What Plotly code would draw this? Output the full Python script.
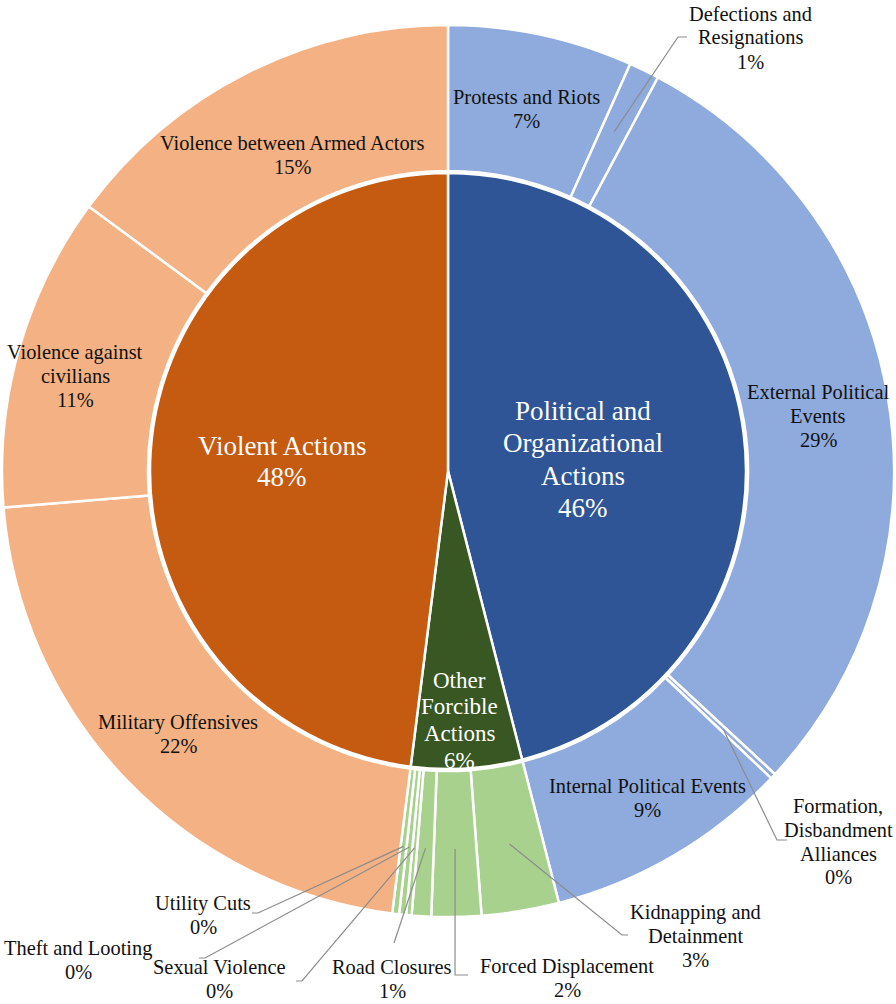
import math
import plotly.graph_objects as go

# Canvas and ring geometry (pixels)
W, H = 896, 1004
CX, CY = 448, 471
R_OUT, R_HOLE, R_IN = 446, 300, 298
R_LEADER = 378

# Inner ring: action groups (percent of events)
groups = ["Political and Organizational Actions", "Other Forcible Actions", "Violent Actions"]
group_values = [46.0, 6.0, 48.0]
group_colors = ["#2F5597", "#385723", "#C55A11"]
group_light = ["#8FAADC", "#A9D18E", "#F4B183"]

# Outer ring: event categories, in clockwise order from 12 o'clock
categories = [
    "Protests and Riots",
    "Defections and Resignations",
    "External Political Events",
    "Formation, Disbandment Alliances",
    "Internal Political Events",
    "Kidnapping and Detainment",
    "Forced Displacement",
    "Road Closures",
    "Sexual Violence",
    "Theft and Looting",
    "Utility Cuts",
    "Military Offensives",
    "Violence against civilians",
    "Violence between Armed Actors",
]
category_values = [6.7, 1.1, 29.1, 0.2, 8.9, 2.8, 1.8, 0.7, 0.2, 0.25, 0.25, 21.7, 11.4, 14.9]
category_group = [0, 0, 0, 0, 0, 1, 1, 1, 1, 1, 1, 2, 2, 2]

# Text layout: line breaks, line-centre positions and leader elbows (pixels)
group_lines = [
    ["Political and", "Organizational", "Actions"],
    ["Other", "Forcible", "Actions"],
    ["Violent Actions"],
]
group_label_pos = [(583, 411, 32.3), (460, 680, 26.7), (282, 446, 31)]
group_font = [27, 23, 27]

category_lines = [
    ["Protests and Riots"],
    ["Defections and", "Resignations"],
    ["External Political", "Events"],
    ["Formation,", "Disbandment", "Alliances"],
    ["Internal Political Events"],
    ["Kidnapping and", "Detainment"],
    ["Forced Displacement"],
    ["Road Closures"],
    ["Sexual Violence"],
    ["Theft and Looting"],
    ["Utility Cuts"],
    ["Military Offensives"],
    ["Violence against", "civilians"],
    ["Violence between Armed Actors"],
]
category_label_pos = [
    (526, 97), (750, 14), (818, 392), (838, 806), (647, 786),
    (695, 912), (567, 966), (392, 967), (219, 967), (78, 948),
    (203, 903), (178, 722), (75, 352), (292, 143),
]
leader_elbows = {
    1: [(678, 37), (687, 37)],
    3: [(777, 840), (787, 840)],
    5: [(622, 935), (628, 935)],
    6: [(455, 975), (468, 975)],
    7: [(394, 943)],
    8: [(302, 981), (296, 981)],
    9: [(205, 958), (199, 958)],
    10: [(258, 913), (252, 913)],
}

FONT = "Liberation Serif"


def px(x):
    return x / W


def py(y):
    return 1 - y / H


def pct(v):
    return f"{int(v + 0.5)}%"


def pie_domain(r):
    return dict(x=[px(CX - r), px(CX + r)], y=[py(CY + r), py(CY - r)])


fig = go.Figure()

fig.add_trace(go.Pie(
    labels=categories,
    values=category_values,
    marker=dict(colors=[group_light[g] for g in category_group],
                line=dict(color="white", width=2.5)),
    hole=R_HOLE / R_OUT,
    sort=False,
    direction="clockwise",
    rotation=0,
    textinfo="none",
    hoverinfo="label+percent",
    showlegend=False,
    domain=pie_domain(R_OUT),
))

fig.add_trace(go.Pie(
    labels=groups,
    values=group_values,
    marker=dict(colors=group_colors, line=dict(color="white", width=2.5)),
    sort=False,
    direction="clockwise",
    rotation=0,
    textinfo="none",
    hoverinfo="label+percent",
    showlegend=False,
    domain=pie_domain(R_IN),
))

annotations = []


def add_lines(lines, x, y0, step, size, color):
    for i, t in enumerate(lines):
        annotations.append(dict(
            x=px(x), y=py(y0 + i * step), xref="paper", yref="paper",
            text=t, showarrow=False, xanchor="center", yanchor="middle",
            font=dict(family=FONT, size=size, color=color),
        ))


for g, lines in enumerate(group_lines):
    x, y0, step = group_label_pos[g]
    add_lines(lines + [pct(group_values[g])], x, y0, step, group_font[g], "white")

for i, lines in enumerate(category_lines):
    x, y0 = category_label_pos[i]
    add_lines(lines + [pct(category_values[i])], x, y0, 23.8, 20.4, "#111111")

# Leader lines from the middle of each small slice out to its label
shapes = []
total = sum(category_values)
cum = 0.0
for i, v in enumerate(category_values):
    mid = (cum + v / 2) / total * 2 * math.pi
    cum += v
    if i not in leader_elbows:
        continue
    ax = CX + R_LEADER * math.sin(mid)
    ay = CY - R_LEADER * math.cos(mid)
    pts = [(ax, ay)] + leader_elbows[i]
    path = "M " + " L ".join(f"{px(x):.5f},{py(y):.5f}" for x, y in pts)
    shapes.append(dict(type="path", path=path, xref="paper", yref="paper",
                       line=dict(color="#8c8c8c", width=1.2)))

fig.update_layout(
    width=W, height=H,
    margin=dict(l=0, r=0, t=0, b=0),
    paper_bgcolor="white",
    plot_bgcolor="white",
    font=dict(family=FONT),
    annotations=annotations,
    shapes=shapes,
)

fig.write_html("out.html")
